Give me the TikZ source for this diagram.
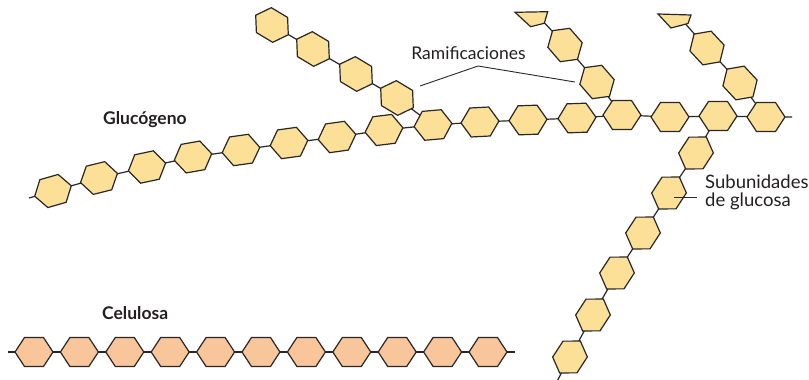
\documentclass[tikz,border=0pt]{standalone}
\usepackage{fontspec}
\setmainfont{Lato}
\definecolor{glcfill}{RGB}{253,224,152}
\definecolor{celfill}{RGB}{249,197,155}
\definecolor{ink}{RGB}{40,38,38}
\definecolor{txt}{RGB}{35,31,32}

% one sugar ring: #1 centre, #2 rotation, #3 fill colour
\newcommand\ring[3]{%
  \path[ringcell,fill=#3,shift={(#1)},rotate=#2]
    (19,0)--(9.5,14.5)--(-9.5,14.5)--(-19,0)--(-9.5,-14.5)--(9.5,-14.5)--cycle;}

\tikzset{
  ringcell/.style={draw=ink,line width=1.2pt,line join=miter},
  bond/.style={draw=ink,line width=1.2pt},
  leader/.style={draw=ink,line width=0.9pt},
  lbl/.style={text=txt,inner sep=0pt,font=\fontsize{17.5}{18}\selectfont},
  title/.style={text=txt,inner sep=0pt,font=\fontsize{17.5}{18}\selectfont\bfseries},
}

\begin{document}
\begin{tikzpicture}[x=1pt,y=-1pt]
\useasboundingbox (0,0) rectangle (809,380);

% ---- glycogen main chain
\coordinate (gL) at (29,198);
\coordinate (g1) at (53,191);
\coordinate (g2) at (99,178);
\coordinate (g3) at (147,167);
\coordinate (g4) at (193,157);
\coordinate (g5) at (241,150);
\coordinate (g6) at (289,143);
\coordinate (g7) at (337,137);
\coordinate (g8) at (384,130);
\coordinate (g9) at (433,125);
\coordinate (g10) at (480,122);
\coordinate (g11) at (528,120);
\coordinate (g12) at (577,118);
\coordinate (g13) at (622,115);
\coordinate (g14) at (670,117);
\coordinate (g15) at (718,116);
\coordinate (g16) at (766,117);
\coordinate (gR) at (792,117);

% ---- branch (upper left)
\coordinate (a1) at (272,25);
\coordinate (a2) at (313,49);
\coordinate (a3) at (356,74);
\coordinate (a4) at (397,98);

% ---- branch (upper middle)
\coordinate (t1) at (540,18);
\coordinate (b1) at (565,45);
\coordinate (b2) at (597,82);

% ---- branch (upper right)
\coordinate (t2) at (681,19);
\coordinate (c1) at (707,48);
\coordinate (c2) at (740,83);

% ---- branch (descending)
\coordinate (d1) at (696,153);
\coordinate (d2) at (669,193);
\coordinate (d3) at (643,233);
\coordinate (d4) at (617,273);
\coordinate (d5) at (593,315);
\coordinate (d6) at (570,357);
\coordinate (dE) at (555,385);

% ---- cellulose chain
\foreach \i in {1,...,11}{
  \coordinate (h\i) at ({34+45.4*(\i-1)},352);
}
\coordinate (hL) at (8,352);
\coordinate (hR) at (515,352);

% bonds
\draw[bond] (gL)--(g1)--(g2)--(g3)--(g4)--(g5)--(g6)--(g7)--(g8)--(g9)--(g10)
  --(g11)--(g12)--(g13)--(g14)--(g15)--(g16)--(gR);
\draw[bond] (a1)--(a2)--(a3)--(a4)--(g9);
\draw[bond] (t1)--(b1)--(b2)--(g13);
\draw[bond] (t2)--(c1)--(c2)--(g16);
\draw[bond] (g15)--(d1)--(d2)--(d3)--(d4)--(d5)--(d6)--(dE);
\draw[bond] (hL)--(h1)--(h2)--(h3)--(h4)--(h5)--(h6)--(h7)--(h8)--(h9)--(h10)--(h11)--(hR);

% rings of the glycogen chain
\ring{g1}{16}{glcfill}
\ring{g2}{14}{glcfill}
\ring{g3}{12}{glcfill}
\ring{g4}{10}{glcfill}
\ring{g5}{8}{glcfill}
\ring{g6}{8}{glcfill}
\ring{g7}{8}{glcfill}
\ring{g8}{7}{glcfill}
\ring{g9}{5}{glcfill}
\ring{g10}{3}{glcfill}
\ring{g11}{2}{glcfill}
\ring{g12}{2}{glcfill}
\ring{g13}{0}{glcfill}
\ring{g14}{0}{glcfill}
\ring{g15}{0}{glcfill}
\ring{g16}{0}{glcfill}

\foreach \n in {a1,a2,a3,a4}{\ring{\n}{-31}{glcfill}}
\ring{b1}{-49}{glcfill}
\ring{b2}{-49}{glcfill}
\ring{c1}{-47}{glcfill}
\ring{c2}{-47}{glcfill}
\foreach \n in {d1,d2,d3,d4,d5,d6}{\ring{\n}{57}{glcfill}}

% cut rings at the top ends of two branches
\path[ringcell,fill=glcfill] (515,12.3)--(547.7,11.7)--(544.3,23.3)--(530.7,26.7)--cycle;
\path[ringcell,fill=glcfill] (658,14)--(691,15)--(688,23.5)--(671,28)--cycle;

% cellulose rings
\foreach \i in {1,...,11}{\ring{h\i}{0}{celfill}}

% labels
\node[title,anchor=base west] (glc) at (103,124) {Glucógeno};
\node[title,anchor=base west] (cel) at (102,319) {Celulosa};
\node[lbl,anchor=base] (ram) at (468.5,59) {Ramificaciones};
\node[lbl,anchor=base west,align=left,font=\fontsize{18.5}{18}\selectfont] (sub) at (705,206.5) {Subunidades\\de glucosa};

% leader lines
\coordinate (rk) at (478,66);
\coordinate (rl) at (420,86);
\coordinate (rr) at (575,82);
\draw[leader] (rl)--(rk)--(rr);
\coordinate (sl) at (674,197);
\coordinate (sr) at (697,197);
\draw[leader] (sl)--(sr);
\end{tikzpicture}
\end{document}
